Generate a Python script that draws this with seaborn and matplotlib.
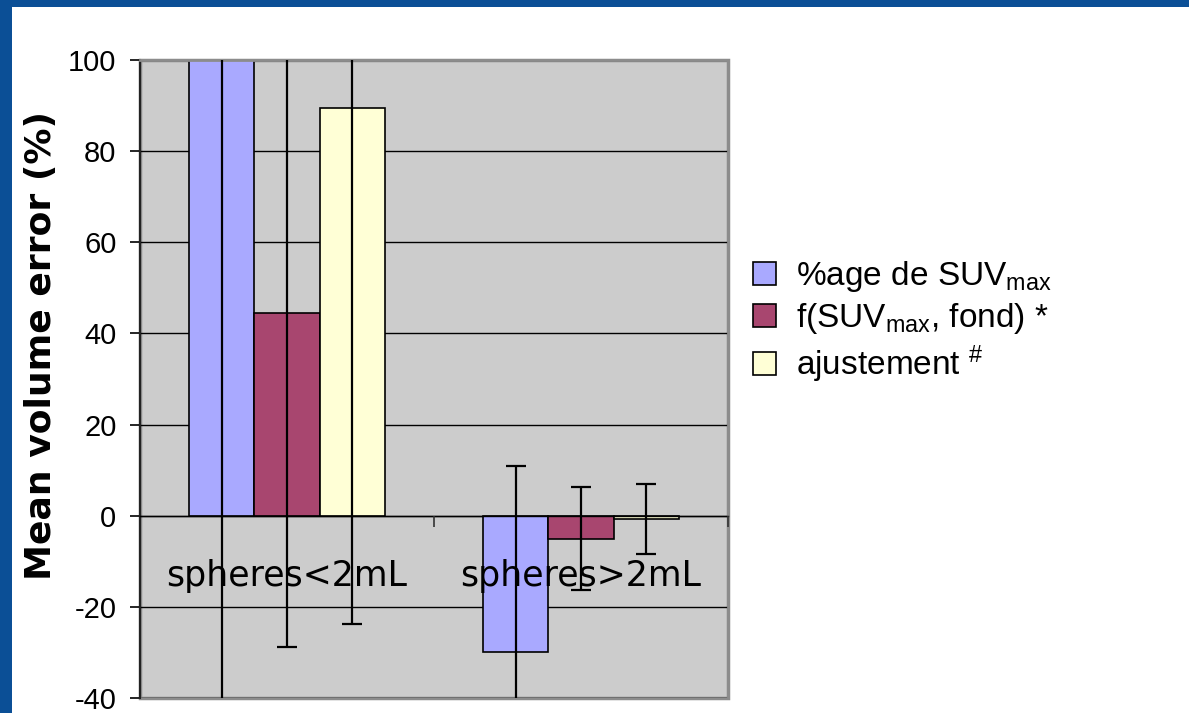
import matplotlib
matplotlib.use("Agg")
import matplotlib.pyplot as plt
from matplotlib.patches import Rectangle
from matplotlib.ticker import FixedLocator
import seaborn as sns
import pandas as pd

# ---- data ----
categories = ["spheres<2mL", "spheres>2mL"]
series = ["%age de SUVmax", "f(SUVmax, fond) *", "ajustement #"]
legend_labels = [r"%age de SUV$_{\mathrm{max}}$",
                 r"f(SUV$_{\mathrm{max}}$, fond) *",
                 r"ajustement $^{\#}$"]
vals_pct = [120.0, -30.0]
vals_fsuv = [44.5, -5.0]
vals_adj = [89.5, -0.7]
err_pct = [170.0, 41.0]
err_fsuv = [73.3, 11.4]
err_adj = [113.3, 7.7]
yticks = [-40, -20, 0, 20, 40, 60, 80, 100]

colors = ["#a9a9ff", "#a8466f", "#ffffd6"]

sns.set_theme(style="white")
plt.rcParams["font.family"] = ["Liberation Sans", "DejaVu Sans"]
plt.rcParams["mathtext.fontset"] = "custom"
plt.rcParams["mathtext.rm"] = "Liberation Sans"
plt.rcParams["mathtext.it"] = "Liberation Sans:italic"
plt.rcParams["mathtext.bf"] = "Liberation Sans:bold"
for k in ["text.color", "axes.labelcolor", "xtick.color", "ytick.color"]:
    plt.rcParams[k] = "black"

df = pd.DataFrame({
    "category": categories * 3,
    "series": [series[0]] * 2 + [series[1]] * 2 + [series[2]] * 2,
    "value": vals_pct + vals_fsuv + vals_adj,
})

fig = plt.figure(figsize=(11.89, 7.13), dpi=100)
fig.patch.set_facecolor("white")
# blue slide border
fig.patches.append(Rectangle((0, 1 - 7 / 713), 1, 7 / 713, transform=fig.transFigure,
                             facecolor="#0b4f96", edgecolor="none", zorder=0))
fig.patches.append(Rectangle((0, 0), 12 / 1189, 1, transform=fig.transFigure,
                             facecolor="#0b4f96", edgecolor="none", zorder=0))

ax = fig.add_axes([140 / 1189, 15 / 713, 588 / 1189, 638 / 713])
ax.set_facecolor("#cccccc")

sns.barplot(data=df, x="category", y="value", hue="series", order=categories,
            hue_order=series, palette=colors, width=0.665, saturation=1,
            edgecolor="black", linewidth=1.2, errorbar=None, ax=ax, zorder=2)

for cont, vals, errs in zip(ax.containers, [vals_pct, vals_fsuv, vals_adj],
                            [err_pct, err_fsuv, err_adj]):
    xs = [p.get_x() + p.get_width() / 2 for p in cont]
    ax.errorbar(xs, vals, yerr=errs, fmt="none", ecolor="black", elinewidth=1.6,
                capsize=7.5, capthick=1.6, zorder=4)

ax.set_xlim(-0.5, 1.5)
ax.set_ylim(-40, 100)
ax.set_yticks(yticks)
ax.set_yticklabels([str(t) for t in yticks], fontsize=21, family="Liberation Sans")
ax.grid(axis="y", color="black", linewidth=1.0)
ax.grid(axis="x", visible=False)
ax.set_axisbelow(True)
ax.xaxis.set_zorder(5)  # category labels drawn over the bars

# x axis crossing at 0
ax.spines["bottom"].set_position(("data", 0))
ax.spines["bottom"].set_color("black")
ax.spines["bottom"].set_linewidth(1.0)
ax.spines["left"].set_color("#222222")
ax.spines["left"].set_linewidth(1.5)
for s in ["top", "right"]:
    ax.spines[s].set_color("#8c8c8c")
    ax.spines[s].set_linewidth(2)
ax.patch.set_edgecolor("#8c8c8c")
ax.patch.set_linewidth(2.5)

ax.set_xticks([0, 1])
ax.set_xticklabels(categories, fontsize=25, family="DejaVu Sans")
ax.xaxis.set_minor_locator(FixedLocator([0.5, 1.5]))
ax.tick_params(axis="x", which="major", length=0, pad=31)
ax.tick_params(axis="x", which="minor", length=8, width=1.2, direction="out",
               color="#333333", bottom=True)
ax.tick_params(axis="y", which="major", length=7, width=1.2, direction="out",
               pad=10, left=True)
ax.set_xlabel("")
ax.set_ylabel("Mean volume error (%)", fontsize=26, family="DejaVu Sans",
              fontweight="bold")
ax.yaxis.set_label_coords(-0.14, 0.552)

handles, _ = ax.get_legend_handles_labels()
leg = ax.legend(handles, legend_labels, loc="upper left",
                bbox_to_anchor=(753 / 1189, 1 - 259 / 713),
                bbox_transform=fig.transFigure, frameon=False,
                prop={"family": "Liberation Sans", "size": 24},
                handlelength=0.68, handleheight=0.68, handletextpad=0.6,
                labelspacing=0.22, borderpad=0, borderaxespad=0)
for h in leg.legend_handles:
    h.set_edgecolor("black")
    h.set_linewidth(1.2)

fig.savefig("out.png", dpi=100)
